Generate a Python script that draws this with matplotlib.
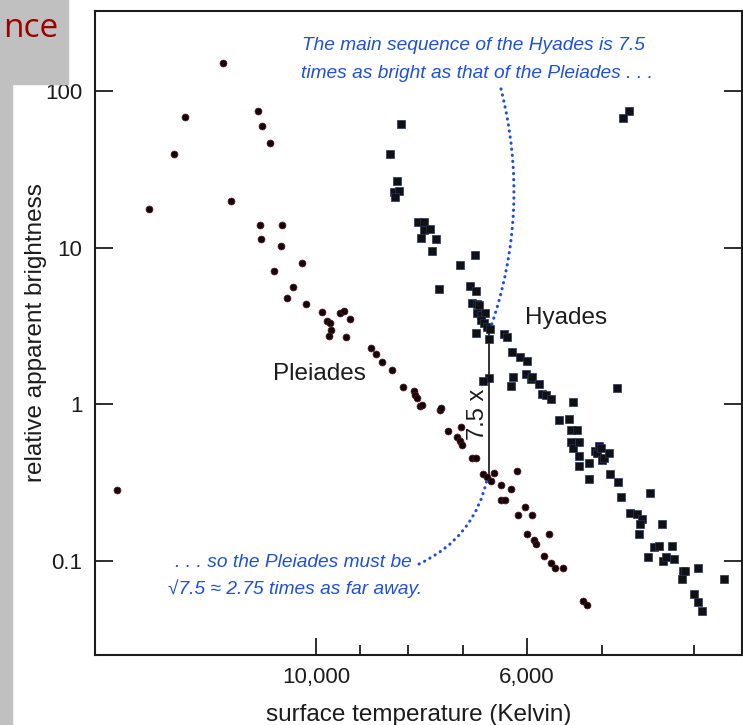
import matplotlib
matplotlib.use("Agg")
import matplotlib.pyplot as plt
from matplotlib.patches import Rectangle
from matplotlib.ticker import NullFormatter, NullLocator

plt.rcParams['font.family'] = ['Liberation Sans', 'DejaVu Sans']

# Pleiades stars: surface temperature (K) and relative apparent brightness
pleiades_temp = [16230, 15000, 14110, 13750, 12550, 12300, 11520, 11400, 11180, 11460,
                 10860, 11420, 10900, 10350, 11080, 10580, 10730, 10250, 9860, 9430,
                 9340, 9740, 9680, 9650, 9210, 9700, 9310, 8750, 8640, 8520,
                 8320, 8100, 7890, 7860, 7830, 7780, 7730, 7410, 7380, 7260,
                 7030, 7100, 7060, 7020, 6860, 6780, 6680, 6610, 6550, 6490,
                 6150, 6390, 6240, 6390, 6330, 6030, 6130, 5930, 5990, 5680,
                 5900, 5870, 5760, 5660, 5600, 5500, 5230, 5180]
pleiades_bright = [0.284, 17.6, 39.6, 67.9, 152, 19.9, 74.9, 59.5, 46.4, 13.9,
                   13.9, 11.4, 10.3, 7.95, 7.10, 5.64, 4.79, 4.35, 3.90, 3.85,
                   3.96, 3.42, 3.32, 2.98, 3.50, 2.73, 2.68, 2.29, 2.10, 1.87,
                   1.66, 1.28, 1.22, 1.15, 1.09, 0.976, 0.99, 0.92, 0.943, 0.679,
                   0.71, 0.621, 0.586, 0.55, 0.452, 0.452, 0.359, 0.342, 0.321, 0.366,
                   0.377, 0.304, 0.287, 0.243, 0.243, 0.222, 0.195, 0.195, 0.149, 0.148,
                   0.135, 0.128, 0.1065, 0.0967, 0.0898, 0.0898, 0.055, 0.0524]

# Hyades stars
hyades_temp = [4680, 4750, 8150, 8370, 8220, 8290, 8190, 8250, 7810, 7690,
               7690, 7580, 7750, 7480, 7550, 6810, 7050, 7420, 6880, 6780,
               6850, 6770, 6730, 6770, 6710, 6640, 6710, 6660, 6600, 6560,
               6790, 6580, 6340, 6290, 6220, 6100, 6000, 6580, 6680, 6200,
               6240, 6010, 5940, 5920, 5820, 5780, 5730, 5660, 5370, 4820,
               5550, 5420, 5390, 5310, 5390, 5360, 5280, 5280, 5280, 5160,
               5090, 5060, 5030, 5010, 5000, 4980, 4910, 5160, 4900, 4810,
               4770, 4670, 4590, 4540, 4560, 4570, 4450, 4320, 4410, 4350,
               4220, 4470, 4310, 4280, 4200, 4110, 4090, 4120, 3960, 3720,
               4000, 3960, 3920]
hyades_bright = [74.9, 66.9, 61.3, 39.4, 26.8, 22.8, 22.9, 21.1, 14.6, 14.6,
                 13.0, 13.2, 11.5, 11.3, 9.56, 9.02, 7.75, 5.45, 5.72, 5.31,
                 4.42, 4.37, 4.31, 3.81, 3.72, 3.81, 3.45, 3.29, 3.13, 3.03,
                 2.87, 2.60, 2.81, 2.68, 2.14, 2.00, 1.89, 1.48, 1.41, 1.49,
                 1.315, 1.56, 1.44, 1.49, 1.35, 1.164, 1.15, 1.08, 1.04, 1.266,
                 0.789, 0.806, 0.689, 0.689, 0.572, 0.529, 0.572, 0.466, 0.404, 0.424,
                 0.506, 0.487, 0.537, 0.524, 0.441, 0.456, 0.491, 0.332, 0.358, 0.317,
                 0.255, 0.203, 0.199, 0.185, 0.172, 0.148, 0.269, 0.172, 0.123, 0.125,
                 0.125, 0.105, 0.100, 0.105, 0.103, 0.0855, 0.0863, 0.0768, 0.0893, 0.0768,
                 0.0616, 0.0542, 0.048]

x_major = [10000, 6000]
x_major_labels = ['10,000', '6,000']
x_minor = [9000, 8000, 7000, 5000, 4000]
y_ticks = [0.1, 1, 10, 100]
y_tick_labels = ['0.1', '1', '10', '100']

# the "7.5 x" comparison between the two main sequences
gap_temp = 6570
hyades_level = 3.0
pleiades_level = 0.34

blue = '#1f50da'
ink = '#1c1c1c'
note = dict(fontsize=13.8, style='italic', color=blue, ha='left', va='center')

fig = plt.figure(figsize=(7.43, 7.25), dpi=100)
ax = fig.add_axes([95 / 743, 70 / 725, 647 / 743, 644 / 725])

ax.scatter(pleiades_temp, pleiades_bright, s=25, marker='o', color='#120306',
           edgecolors='#5a1a28', linewidths=0.5, zorder=3)
ax.scatter(hyades_temp, hyades_bright, s=30, marker='s', color='#111114',
           edgecolors='#243466', linewidths=0.5, zorder=3)

ax.set_xscale('log')
ax.set_yscale('log')
ax.set_xlim(17100, 3560)
ax.set_ylim(0.025, 325)

ax.set_xticks(x_major, x_major_labels)
ax.set_xticks(x_minor, minor=True)
ax.xaxis.set_minor_formatter(NullFormatter())
ax.set_yticks(y_ticks, y_tick_labels)
ax.yaxis.set_minor_locator(NullLocator())

ax.tick_params(axis='x', which='major', direction='in', length=12, width=1.3,
               labelsize=16, pad=9, colors=ink)
ax.tick_params(axis='x', which='minor', direction='in', length=7.5, width=1.3, colors=ink)
ax.tick_params(axis='y', which='major', direction='in', length=13, width=1.3,
               labelsize=16, pad=9, right=True, colors=ink)
for sp in ax.spines.values():
    sp.set_linewidth(1.5)
    sp.set_color(ink)

ax.set_xlabel('surface temperature (Kelvin)', fontsize=17.5, color=ink, labelpad=11)
ax.set_ylabel('relative apparent brightness', fontsize=17.5, color=ink, labelpad=-1)

ax.vlines(gap_temp, pleiades_level, hyades_level, color='#333333', lw=1.4, zorder=2)
ax.text(0.592, 0.373, '7.5 x', transform=ax.transAxes, rotation=90,
        ha='center', va='center', fontsize=17, color=ink)
ax.text(0.6646, 0.524, 'Hyades', transform=ax.transAxes, ha='left', va='center',
        fontsize=17.5, color=ink)
ax.text(0.2747, 0.437, 'Pleiades', transform=ax.transAxes, ha='left', va='center',
        fontsize=17.5, color=ink)

ax.text(0.320, 0.9457, 'The main sequence of the Hyades is 7.5', transform=ax.transAxes, **note)
ax.text(0.318, 0.9037, 'times as bright as that of the Pleiades . . .', transform=ax.transAxes, **note)
ax.text(0.1236, 0.1429, '. . . so the Pleiades must be', transform=ax.transAxes, **note)
ax.text(0.1128, 0.1025, '\u221a7.5 \u2248 2.75 times as far away.', transform=ax.transAxes, **note)

dots = dict(arrowstyle='-', color=blue, lw=2.2, linestyle=(0, (0.1, 1.9)),
            capstyle='round', shrinkA=0, shrinkB=0)
ax.annotate('', xy=(6560, hyades_level), xycoords='data',
            xytext=(0.6275, 0.879), textcoords='axes fraction',
            arrowprops=dict(dots, connectionstyle='arc3,rad=-0.15'))
ax.annotate('', xy=(6600, pleiades_level), xycoords='data',
            xytext=(0.5008, 0.1413), textcoords='axes fraction',
            arrowprops=dict(dots, connectionstyle='arc3,rad=0.25'))

# grey label box cut off at the top left
fig.patches.append(Rectangle((0, 1 - 84 / 725), 68 / 743, 84 / 725,
                             transform=fig.transFigure, color='#c0c0c0', zorder=0))
fig.patches.append(Rectangle((0, 0), 12 / 743, 1 - 84 / 725,
                             transform=fig.transFigure, color='#c0c0c0', zorder=0))
fig.text(3 / 743, 1 - 37 / 725, 'nce', ha='left', va='baseline', fontsize=24,
         color='#990000', family='Open Sans')

fig.savefig('out.png', dpi=100)
